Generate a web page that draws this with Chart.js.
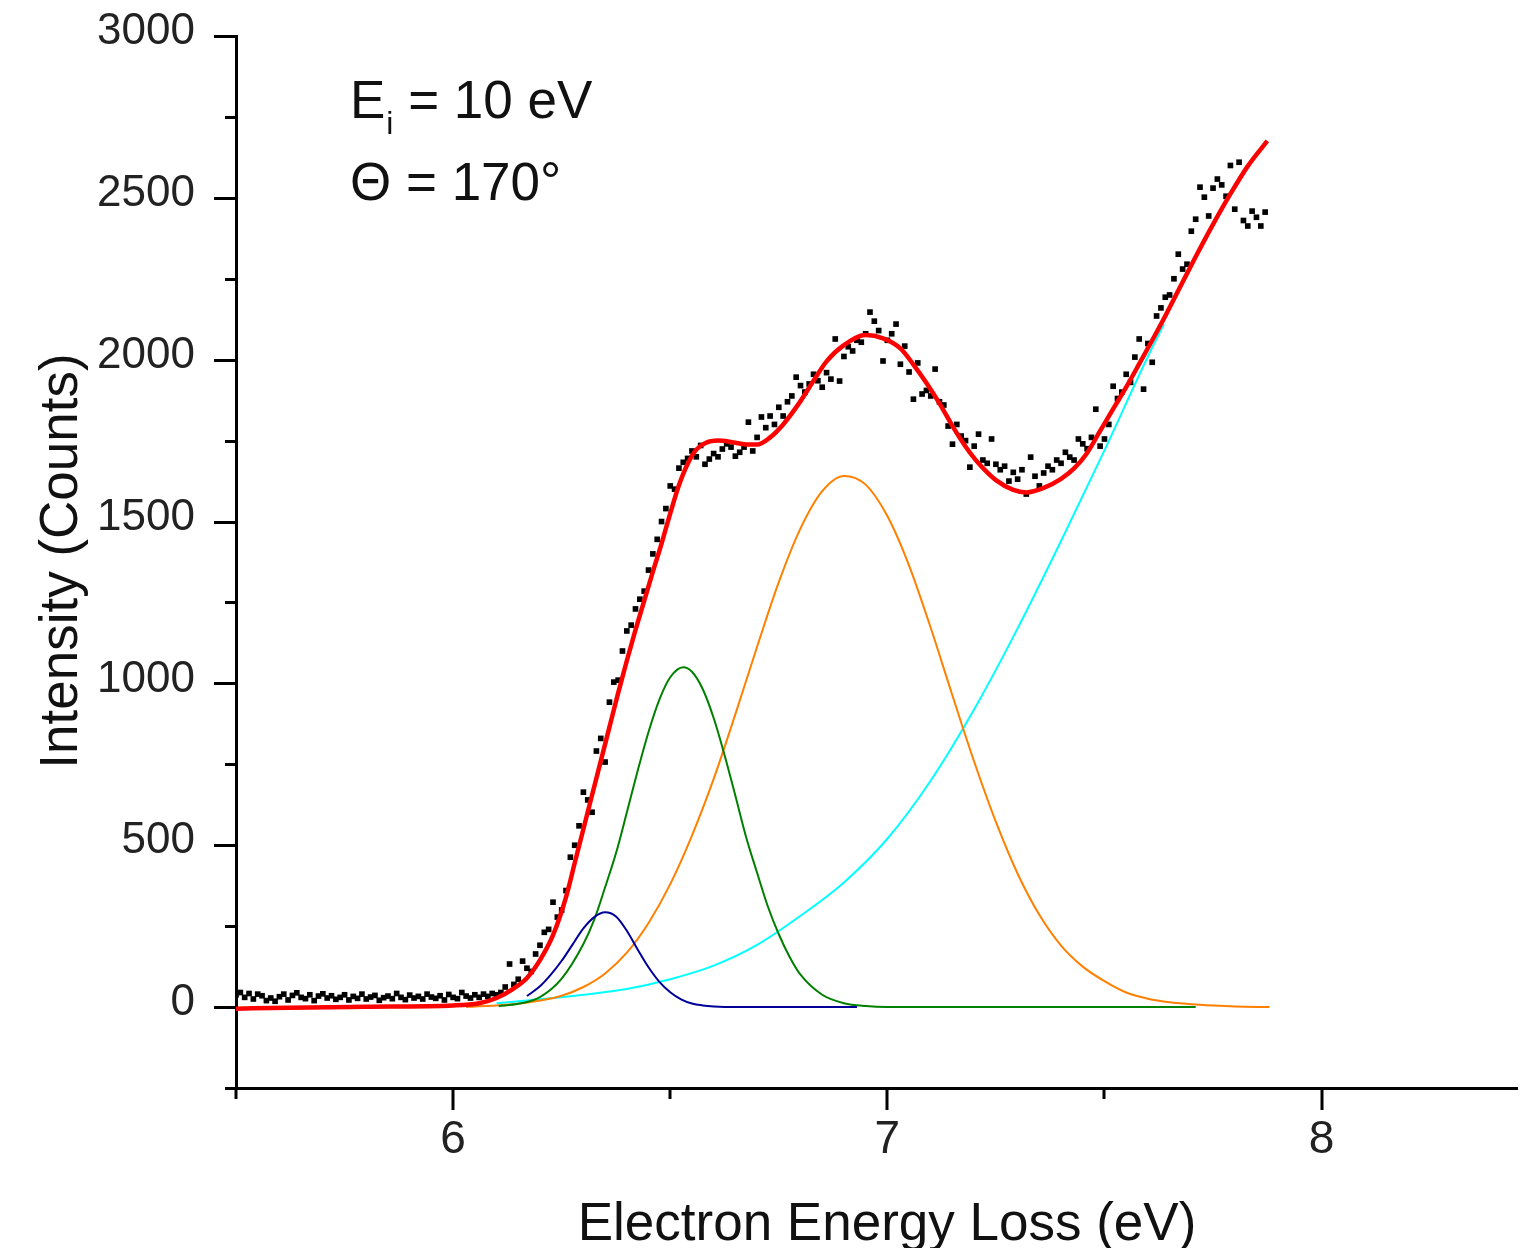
<!DOCTYPE html>
<html>
<head>
<meta charset="utf-8">
<title>EELS fit</title>
<script src="https://cdn.jsdelivr.net/npm/chart.js@4.4.1/dist/chart.umd.min.js"></script>
<style>
  html, body { margin: 0; padding: 0; background: #fff; }
  #wrap { width: 1521px; height: 1248px; }
</style>
</head>
<body>
<div id="wrap"><canvas id="eelsChart" width="1521" height="1248"></canvas></div>
<script>
  "use strict";

  // ============================================
  // DATA
  // ============================================
  var scanEnergy = [
    5.50, 5.51, 5.52, 5.53, 5.54, 5.55, 5.56, 5.57, 5.58, 5.59,
    5.60, 5.61, 5.62, 5.63, 5.64, 5.65, 5.66, 5.67, 5.68, 5.69,
    5.70, 5.71, 5.72, 5.73, 5.74, 5.75, 5.76, 5.77, 5.78, 5.79,
    5.80, 5.81, 5.82, 5.83, 5.84, 5.85, 5.86, 5.87, 5.88, 5.89,
    5.90, 5.91, 5.92, 5.93, 5.94, 5.95, 5.96, 5.97, 5.98, 5.99,
    6.00, 6.01, 6.02, 6.03, 6.04, 6.05, 6.06, 6.07, 6.08, 6.09,
    6.10, 6.11, 6.12, 6.13, 6.14, 6.15, 6.16, 6.17, 6.18, 6.19,
    6.20, 6.21, 6.22, 6.23, 6.24, 6.25, 6.26, 6.27, 6.28, 6.29,
    6.30, 6.31, 6.32, 6.33, 6.34, 6.35, 6.36, 6.37, 6.38, 6.39,
    6.40, 6.41, 6.42, 6.43, 6.44, 6.45, 6.46, 6.47, 6.48, 6.49,
    6.50, 6.51, 6.52, 6.53, 6.54, 6.55, 6.56, 6.57, 6.58, 6.59,
    6.60, 6.61, 6.62, 6.63, 6.64, 6.65, 6.66, 6.67, 6.68, 6.69,
    6.70, 6.71, 6.72, 6.73, 6.74, 6.75, 6.76, 6.77, 6.78, 6.79,
    6.80, 6.81, 6.82, 6.83, 6.84, 6.85, 6.86, 6.87, 6.88, 6.89,
    6.90, 6.91, 6.92, 6.93, 6.94, 6.95, 6.96, 6.97, 6.98, 6.99,
    7.00, 7.01, 7.02, 7.03, 7.04, 7.05, 7.06, 7.07, 7.08, 7.09,
    7.10, 7.11, 7.12, 7.13, 7.14, 7.15, 7.16, 7.17, 7.18, 7.19,
    7.20, 7.21, 7.22, 7.23, 7.24, 7.25, 7.26, 7.27, 7.28, 7.29,
    7.30, 7.31, 7.32, 7.33, 7.34, 7.35, 7.36, 7.37, 7.38, 7.39,
    7.40, 7.41, 7.42, 7.43, 7.44, 7.45, 7.46, 7.47, 7.48, 7.49,
    7.50, 7.51, 7.52, 7.53, 7.54, 7.55, 7.56, 7.57, 7.58, 7.59,
    7.60, 7.61, 7.62, 7.63, 7.64, 7.65, 7.66, 7.67, 7.68, 7.69,
    7.70, 7.71, 7.72, 7.73, 7.74, 7.75, 7.76, 7.77, 7.78, 7.79,
    7.80, 7.81, 7.82, 7.83, 7.84, 7.85, 7.86, 7.87
  ];
  var scanCounts = [
    38, 45, 30, 42, 25, 40, 35, 20, 28, 18,
    32, 40, 22, 36, 44, 30, 26, 38, 20, 34,
    41, 28, 35, 24, 30, 38, 22, 33, 27, 40,
    25, 31, 36, 21, 29, 34, 26, 42, 30, 23,
    37, 28, 33, 25, 40, 31, 27, 35, 22, 39,
    30, 26, 45, 34, 28, 38, 30, 40, 33, 42,
    38, 45, 62, 133, 70, 86, 142, 120, 110, 164,
    191, 231, 240, 324, 278, 300, 360, 463, 500, 560,
    664, 640, 602, 791, 830, 757, 942, 1004, 1010, 1100,
    1162, 1180, 1230, 1260, 1285, 1350, 1400, 1445, 1500, 1540,
    1610, 1600, 1665, 1683, 1695, 1718, 1700, 1735, 1677, 1693,
    1710, 1700, 1724, 1740, 1730, 1702, 1714, 1730, 1807, 1718,
    1760, 1823, 1790, 1826, 1800, 1853, 1826, 1870, 1888, 1946,
    1920, 1900, 1925, 1955, 1935, 1915, 1960, 1940, 2064, 1934,
    2010, 2040, 2027, 2060, 2054, 2080, 2147, 2119, 2090, 1996,
    2060, 2080, 2110, 1986, 2042, 1962, 1878, 1990, 1894, 1905,
    1888, 1971, 1870, 1860, 1795, 1739, 1800, 1764, 1750, 1668,
    1733, 1770, 1690, 1680, 1755, 1677, 1660, 1671, 1625, 1652,
    1631, 1660, 1585, 1699, 1640, 1610, 1650, 1671, 1660, 1690,
    1680, 1714, 1699, 1690, 1755, 1740, 1725, 1760, 1847, 1733,
    1755, 1800, 1918, 1880, 1900, 1955, 1930, 2008, 2064, 1909,
    2050, 1992, 2135, 2160, 2193, 2200, 2250, 2326, 2280, 2295,
    2397, 2434, 2533, 2502, 2444, 2530, 2558, 2540, 2505, 2600,
    2465, 2610, 2430, 2413, 2459, 2440, 2413, 2456
  ];

  // total fit (red)
  var fitEnergy = [
    5.50, 5.62, 5.80, 6.00, 6.06, 6.10, 6.14, 6.17, 6.20, 6.23,
    6.26, 6.28, 6.30, 6.32, 6.34, 6.36, 6.38, 6.40, 6.42, 6.44,
    6.46, 6.48, 6.50, 6.52, 6.54, 6.56, 6.58, 6.61, 6.64, 6.67,
    6.70, 6.73, 6.76, 6.80, 6.83, 6.86, 6.90, 6.95, 6.99, 7.03,
    7.06, 7.09, 7.12, 7.15, 7.18, 7.21, 7.25, 7.29, 7.32, 7.36,
    7.40, 7.43, 7.46, 7.49, 7.52, 7.55, 7.58, 7.61, 7.64, 7.68,
    7.71, 7.75, 7.79, 7.83, 7.875
  ];
  var fitCounts = [
    -5, -2, 1, 5, 12, 28, 58, 90, 145, 222,
    340, 445, 550, 655, 760, 865, 970, 1070, 1165, 1255,
    1345, 1432, 1525, 1612, 1678, 1722, 1742, 1750, 1746, 1739,
    1738, 1760, 1800, 1872, 1935, 1995, 2045, 2076, 2066, 2035,
    1985, 1928, 1865, 1795, 1732, 1680, 1628, 1598, 1590, 1604,
    1632, 1664, 1712, 1780, 1848, 1915, 1987, 2060, 2135, 2240,
    2318, 2418, 2512, 2598, 2676
  ];

  // peak 1 (dark blue)
  var peak1Energy = [6.17, 6.20, 6.225, 6.25, 6.275, 6.30, 6.325, 6.35, 6.375, 6.40,
    6.425, 6.45, 6.475, 6.50, 6.525, 6.55, 6.575, 6.60, 6.65, 6.93];
  var peak1Counts = [34, 64, 100, 143, 193, 243, 278, 293, 280, 236,
    178, 123, 78, 46, 24, 11, 5, 2, 0, 0];

  // peak 2 (green)
  var peak2Energy = [6.105, 6.15, 6.20, 6.25, 6.30, 6.325, 6.35, 6.375, 6.40, 6.425,
    6.45, 6.475, 6.50, 6.53, 6.55, 6.575, 6.60, 6.625, 6.65, 6.675,
    6.70, 6.725, 6.75, 6.775, 6.80, 6.85, 6.90, 6.95, 7.00, 7.71];
  var peak2Counts = [3, 10, 31, 88, 195, 270, 370, 475, 601, 730,
    850, 950, 1019, 1050, 1036, 982, 893, 779, 653, 524,
    415, 310, 225, 155, 100, 38, 12, 3, 0, 0];

  // peak 3 (orange)
  var peak3Energy = [6.03, 6.05, 6.10, 6.15, 6.20, 6.25, 6.30, 6.35, 6.40, 6.45,
    6.50, 6.55, 6.60, 6.65, 6.70, 6.75, 6.80, 6.85, 6.90, 6.95,
    7.00, 7.05, 7.10, 7.15, 7.20, 7.25, 7.30, 7.35, 7.40, 7.45,
    7.50, 7.55, 7.60, 7.65, 7.70, 7.75, 7.80, 7.88];
  var peak3Counts = [0, 2, 5, 10, 20, 35, 62, 104, 168, 260,
    380, 530, 705, 905, 1113, 1313, 1479, 1594, 1641, 1614,
    1517, 1364, 1171, 962, 758, 572, 412, 285, 190, 125,
    80, 45, 26, 15, 9, 5, 2, 0];

  // background (cyan)
  var bgEnergy = [6.10, 6.20, 6.30, 6.40, 6.50, 6.60, 6.70, 6.80, 6.90, 7.00,
    7.10, 7.20, 7.30, 7.40, 7.50, 7.60, 7.637];
  var bgCounts = [12, 24, 38, 56, 86, 128, 192, 282, 385, 520,
    700, 920, 1170, 1440, 1720, 2010, 2110];

  // axes
  var xMajorTicks = [6, 7, 8];
  var xMinorTicks = [5.5, 6.5, 7.5];
  var yMajorTicks = [0, 500, 1000, 1500, 2000, 2500, 3000];
  var yMinorTicks = [-250, 250, 750, 1250, 1750, 2250, 2750];

  var FONT = "'Liberation Sans', Arial, sans-serif";

  function toPoints(xs, ys) {
    return xs.map(function (x, i) {
      return { x: x, y: ys[i] };
    });
  }

  function curve(label, xs, ys, color, width) {
    return {
      label: label,
      data: toPoints(xs, ys),
      showLine: true,
      borderColor: color,
      borderWidth: width,
      pointRadius: 0,
      fill: false,
      cubicInterpolationMode: "monotone"
    };
  }

  // fixed axis boxes, no extra label padding
  function fixBox(size, horizontal) {
    return function (scale) {
      if (horizontal) scale.height = size; else scale.width = size;
      scale.paddingTop = 0;
      scale.paddingBottom = 0;
      scale.paddingLeft = 0;
      scale.paddingRight = 0;
    };
  }

  // ============================================
  // PLUGINS: tick marks + annotation text + axis titles
  // ============================================
  var tickMarks = {
    id: "tickMarks",
    afterDraw: function (chart) {
      var ctx = chart.ctx;
      var xs = chart.scales.x;
      var ys = chart.scales.y;
      ctx.save();
      ctx.strokeStyle = "#000";
      ctx.lineWidth = 3;
      ctx.beginPath();
      xMajorTicks.forEach(function (v) {
        var px = Math.round(xs.getPixelForValue(v));
        ctx.moveTo(px, xs.top); ctx.lineTo(px, xs.top + 22);
      });
      xMinorTicks.forEach(function (v) {
        var px = Math.round(xs.getPixelForValue(v));
        ctx.moveTo(px, xs.top); ctx.lineTo(px, xs.top + 11);
      });
      yMajorTicks.forEach(function (v) {
        var py = Math.round(ys.getPixelForValue(v)) + 0.5;
        ctx.moveTo(ys.right, py); ctx.lineTo(ys.right - 22, py);
      });
      yMinorTicks.forEach(function (v) {
        var py = Math.round(ys.getPixelForValue(v)) + 0.5;
        ctx.moveTo(ys.right, py); ctx.lineTo(ys.right - 11, py);
      });
      ctx.stroke();
      ctx.restore();
    }
  };

  var labels = {
    id: "labels",
    afterDraw: function (chart) {
      var ctx = chart.ctx;
      ctx.save();
      ctx.fillStyle = "#111";
      ctx.textBaseline = "alphabetic";
      ctx.textAlign = "left";

      // E_i = 10 eV
      ctx.font = "53px " + FONT;
      ctx.fillText("E", 350, 118);
      var ex = 350 + ctx.measureText("E").width;
      ctx.font = "32px " + FONT;
      ctx.fillText("i", ex + 1, 134);
      var ix = ex + 1 + ctx.measureText("i").width;
      ctx.font = "53px " + FONT;
      ctx.fillText(" = 10 eV", ix, 118);

      // Theta = 170°
      ctx.fillText("\u0398 = 170\u00b0", 350, 200);

      // x title
      ctx.textAlign = "center";
      ctx.fillText("Electron Energy Loss (eV)", 887, 1240);

      // y title
      ctx.translate(77, 561);
      ctx.rotate(-Math.PI / 2);
      ctx.fillText("Intensity (Counts)", 0, 0);
      ctx.restore();
    }
  };

  // ============================================
  // CHART
  // ============================================
  var ctx = document.getElementById("eelsChart");
  new Chart(ctx, {
    type: "scatter",
    data: {
      datasets: [
        curve("Fit", fitEnergy, fitCounts, "#ff0000", 4.5),
        {
          label: "Data",
          data: toPoints(scanEnergy, scanCounts),
          showLine: false,
          pointStyle: "rect",
          pointRadius: 4,
          pointBorderWidth: 0,
          backgroundColor: "#000",
          borderColor: "#000"
        },
        curve("Peak 1", peak1Energy, peak1Counts, "#000099", 2),
        curve("Peak 2", peak2Energy, peak2Counts, "#008000", 2),
        curve("Peak 3", peak3Energy, peak3Counts, "#ff8000", 2),
        curve("Background", bgEnergy, bgCounts, "#00ffff", 2)
      ]
    },
    options: {
      responsive: false,
      animation: false,
      layout: { padding: { top: 36, right: 0, bottom: 0, left: 0 } },
      plugins: {
        legend: { display: false },
        tooltip: { enabled: false }
      },
      scales: {
        x: {
          type: "linear",
          min: 5.5,
          max: 8.45,
          grid: { display: false, drawTicks: false },
          border: { display: true, color: "#000", width: 3 },
          afterBuildTicks: function (scale) {
            scale.ticks = xMajorTicks.map(function (v) { return { value: v }; });
          },
          afterFit: fixBox(160, true),
          ticks: {
            color: "#222",
            font: { family: FONT, size: 46 },
            padding: 25,
            maxRotation: 0,
            autoSkip: false,
            callback: function (v) { return String(v); }
          }
        },
        y: {
          type: "linear",
          min: -250,
          max: 3000,
          grid: { display: false, drawTicks: false },
          border: { display: true, color: "#000", width: 3 },
          afterBuildTicks: function (scale) {
            scale.ticks = yMajorTicks.map(function (v) { return { value: v }; });
          },
          afterFit: fixBox(236, false),
          ticks: {
            color: "#222",
            font: { family: FONT, size: 44 },
            padding: 41,
            labelOffset: -4,
            autoSkip: false,
            callback: function (v) { return String(v); }
          }
        }
      }
    },
    plugins: [tickMarks, labels]
  });
</script>
</body>
</html>
